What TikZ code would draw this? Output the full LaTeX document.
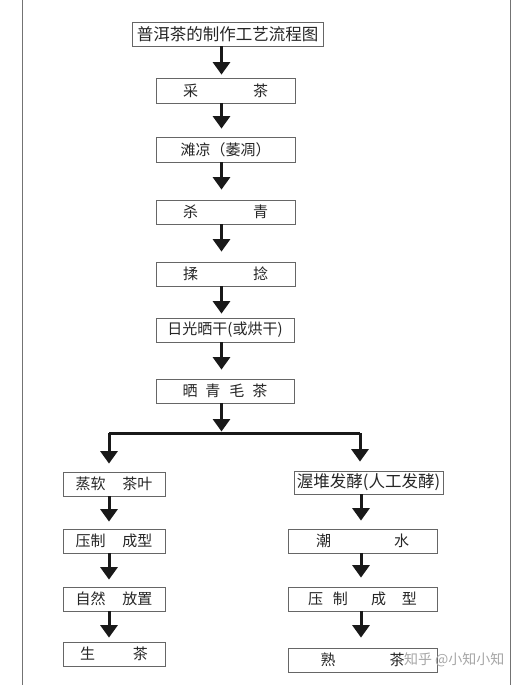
\documentclass[tikz,border=0pt]{standalone}
\usepackage{fontspec}
\newfontfamily\cjk{Noto Sans CJK SC}
\usetikzlibrary{arrows.meta}
\tikzset{
  box/.style={draw=black!60, line width=0.8pt, inner sep=0pt, font=\cjk\fontsize{15}{15}\selectfont, text=black!85},
  arr/.style={line width=3pt, draw=black!90, -{Triangle[width=17pt,length=12.5pt]}},
  bar/.style={line width=3pt, draw=black!90, line join=miter},
  pageline/.style={draw=black!55, line width=0.8pt},
  wm/.style={font=\cjk\fontsize{14}{14}\selectfont, text=black!35}
}
\begin{document}
\begin{tikzpicture}[x=1pt,y=-1pt]
\useasboundingbox (0,0) rectangle (522,691);
\fill[white] (0,0) rectangle (522,691);
% page borders
\coordinate (pl1) at (22,0); \coordinate (pl2) at (22,685);
\coordinate (pr1) at (510,0); \coordinate (pr2) at (510,685);
\draw[pageline] (pl1) -- (pl2);
\draw[pageline] (pr1) -- (pr2);
% main column
\node[box, minimum width=191pt, minimum height=24pt, font=\cjk\fontsize{16.5}{16.5}\selectfont] (t) at (227.5,34) {普洱茶的制作工艺流程图};
\node[box, minimum width=139pt, minimum height=25pt] (b1) at (225.5,90.5) {采\hspace{55pt}茶};
\node[box, minimum width=139pt, minimum height=25pt] (b2) at (225.5,149.5) {滩凉（萎凋）};
\node[box, minimum width=139pt, minimum height=24pt] (b3) at (225.5,212) {杀\hspace{55pt}青};
\node[box, minimum width=139pt, minimum height=24pt] (b4) at (225.5,274) {揉\hspace{55pt}捻};
\node[box, minimum width=138pt, minimum height=24pt] (b5) at (225,330) {日光晒干(或烘干)};
\node[box, minimum width=138pt, minimum height=24pt] (b6) at (225,391) {晒\hspace{8pt}青\hspace{9pt}毛\hspace{8pt}茶};
% left column
\node[box, minimum width=102pt, minimum height=24pt] (l1) at (114,484) {蒸软\hspace{17pt}茶叶};
\node[box, minimum width=102pt, minimum height=24pt] (l2) at (114,541) {压制\hspace{17pt}成型};
\node[box, minimum width=102pt, minimum height=24pt] (l3) at (114,599) {自然\hspace{17pt}放置};
\node[box, minimum width=102pt, minimum height=24pt] (l4) at (114,654) {生\hspace{38pt}茶};
% right column
\node[box, minimum width=149pt, minimum height=23pt, font=\cjk\fontsize{16.5}{16.5}\selectfont] (r1) at (368.5,482.5) {渥堆发酵(人工发酵)};
\node[box, minimum width=149pt, minimum height=24pt] (r2) at (362.5,541) {潮\hspace{63pt}水};
\node[box, minimum width=149pt, minimum height=24pt] (r3) at (362.5,599) {压\hspace{10pt}制\hspace{23pt}成\hspace{16pt}型};
\node[box, minimum width=149pt, minimum height=24pt] (r4) at (362.5,660) {熟\hspace{54pt}茶};
% column axes
\coordinate (mc) at (221.5,0);
\coordinate (lc) at (109,433);
\coordinate (rc) at (360,433);
\coordinate (bm) at (221.5,433);
% main arrows
\draw[arr, shorten >=3pt] (t.south -| mc) -- (b1.north -| mc);
\draw[arr, shorten >=8pt] (b1.south -| mc) -- (b2.north -| mc);
\draw[arr, shorten >=10pt] (b2.south -| mc) -- (b3.north -| mc);
\draw[arr, shorten >=10pt] (b3.south -| mc) -- (b4.north -| mc);
\draw[arr, shorten >=4pt] (b4.south -| mc) -- (b5.north -| mc);
\draw[arr, shorten >=9pt] (b5.south -| mc) -- (b6.north -| mc);
% branch
\draw[arr, shorten >=1.5pt] (b6.south -| mc) -- (bm);
\draw[bar] (lc) -- (rc);
\draw[arr, shorten >=8pt] (lc) -- (l1.north -| lc);
\draw[arr, shorten >=9pt] (rc) -- (r1.north -| rc);
% left arrows
\draw[arr, shorten >=7pt] (l1.south -| lc) -- (l2.north -| lc);
\draw[arr, shorten >=7pt] (l2.south -| lc) -- (l3.north -| lc);
\draw[arr, shorten >=4pt] (l3.south -| lc) -- (l4.north -| lc);
% right arrows
\coordinate (rc2) at (361,0);
\draw[arr, shorten >=8pt] (r1.south -| rc2) -- (r2.north -| rc2);
\draw[arr, shorten >=9pt] (r2.south -| rc2) -- (r3.north -| rc2);
\draw[arr, shorten >=10pt] (r3.south -| rc2) -- (r4.north -| rc2);
% watermark
\node[wm, anchor=east] (w) at (508,660) {知乎 @小知小知};
\end{tikzpicture}
\end{document}
